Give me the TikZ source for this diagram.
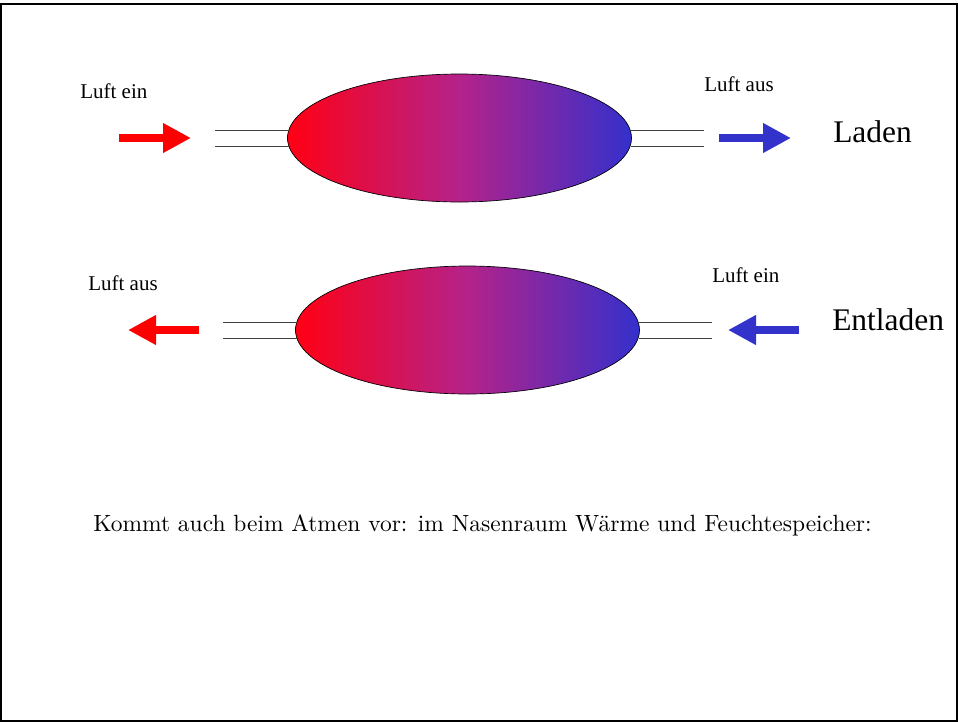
\documentclass[tikz,border=0pt]{standalone}
\usepackage{fontspec}
\usetikzlibrary{shapes.geometric,arrows.meta}
\newfontfamily\timesfont{Liberation Serif}
\definecolor{gradred}{RGB}{255,0,20}
\definecolor{gradmid}{RGB}{180,34,138}
\definecolor{gradblue}{RGB}{52,48,204}
\definecolor{airred}{RGB}{255,0,0}
\definecolor{airblue}{RGB}{51,51,204}
\tikzset{
  store/.style={ellipse, draw=black, line width=0.5pt, inner sep=0pt,
    minimum width=258pt, minimum height=96pt,
    left color=gradred, right color=gradblue, middle color=gradmid},
  pipe/.style={draw=black!75, line width=0.7pt},
  flowred/.style={draw=airred, line width=6pt,
    -{Triangle[length=21pt,width=21pt]}},
  flowblue/.style={draw=airblue, line width=6pt,
    -{Triangle[length=21pt,width=21pt]}},
  smalllabel/.style={font=\timesfont\fontsize{15.75}{18}\selectfont,
    anchor=base west, inner sep=0pt},
  modelabel/.style={font=\timesfont\fontsize{23.6}{27}\selectfont,
    anchor=base west, inner sep=0pt},
  notelabel/.style={anchor=base west, inner sep=0pt}
}
\begin{document}
\begin{tikzpicture}[x=0.75pt,y=-0.75pt]
  % page and frame
  \useasboundingbox (0,0) rectangle (958,722);
  \draw[line width=1.5pt] (1,4) rectangle (956.5,720.5);

  % ---------- Laden ----------
  \node[store] (s1) at (459.5,138) {};
  \coordinate (p1l) at (215,138);
  \coordinate (p1r) at (704,138);
  \draw[pipe] ([yshift=6pt]p1l) -- ([yshift=6pt,xshift=1pt]s1.west);
  \draw[pipe] ([yshift=-6pt]p1l) -- ([yshift=-6pt,xshift=1pt]s1.west);
  \draw[pipe] ([yshift=6pt]p1r) -- ([yshift=6pt,xshift=-1pt]s1.east);
  \draw[pipe] ([yshift=-6pt]p1r) -- ([yshift=-6pt,xshift=-1pt]s1.east);

  \coordinate (a1s) at (119,138);
  \coordinate (a1e) at (191,138);
  \draw[flowred] (a1s) -- (a1e);
  \coordinate (a2s) at (719,138);
  \coordinate (a2e) at (791,138);
  \draw[flowblue] (a2s) -- (a2e);

  \node[smalllabel] (t1) at (80,98) {Luft ein};
  \node[smalllabel] (t2) at (704,91) {Luft aus};
  \node[modelabel] (m1) at (833,142) {Laden};

  % ---------- Entladen ----------
  \node[store] (s2) at (467.5,330) {};
  \coordinate (p2l) at (223,330);
  \coordinate (p2r) at (712,330);
  \draw[pipe] ([yshift=6pt]p2l) -- ([yshift=6pt,xshift=1pt]s2.west);
  \draw[pipe] ([yshift=-6pt]p2l) -- ([yshift=-6pt,xshift=1pt]s2.west);
  \draw[pipe] ([yshift=6pt]p2r) -- ([yshift=6pt,xshift=-1pt]s2.east);
  \draw[pipe] ([yshift=-6pt]p2r) -- ([yshift=-6pt,xshift=-1pt]s2.east);

  \coordinate (a3s) at (199,330);
  \coordinate (a3e) at (128,330);
  \draw[flowred] (a3s) -- (a3e);
  \coordinate (a4s) at (799,330);
  \coordinate (a4e) at (728,330);
  \draw[flowblue] (a4s) -- (a4e);

  \node[smalllabel] (t3) at (88,290) {Luft aus};
  \node[smalllabel] (t4) at (712,282) {Luft ein};
  \node[modelabel] (m2) at (832,330) {Entladen};

  % ---------- note ----------
  \node[notelabel] (note) at (93,531.5)
    {\scalebox{1.76}{Kommt auch beim Atmen vor: im Nasenraum Wärme und Feuchtespeicher:}};
\end{tikzpicture}
\end{document}
